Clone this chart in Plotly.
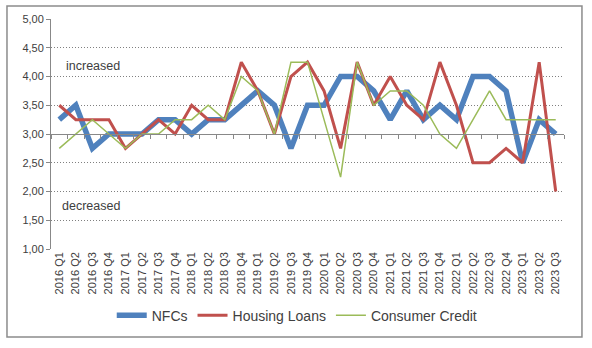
import plotly.graph_objects as go

categories = ["2016 Q1","2016 Q2","2016 Q3","2016 Q4","2017 Q1","2017 Q2","2017 Q3","2017 Q4",
              "2018 Q1","2018 Q2","2018 Q3","2018 Q4","2019 Q1","2019 Q2","2019 Q3","2019 Q4",
              "2020 Q1","2020 Q2","2020 Q3","2020 Q4","2021 Q1","2021 Q2","2021 Q3","2021 Q4",
              "2022 Q1","2022 Q2","2022 Q3","2022 Q4","2023 Q1","2023 Q2","2023 Q3"]

nfcs = [3.25,3.50,2.75,3.00,3.00,3.00,3.25,3.25,3.00,3.25,3.25,3.50,3.75,3.50,2.75,3.50,
        3.50,4.00,4.00,3.75,3.25,3.75,3.25,3.50,3.25,4.00,4.00,3.75,2.50,3.25,3.00]
housing = [3.50,3.25,3.25,3.25,2.75,3.00,3.25,3.00,3.50,3.25,3.25,4.25,3.75,3.00,4.00,4.25,
           3.75,2.75,4.25,3.50,4.00,3.50,3.25,4.25,3.50,2.50,2.50,2.75,2.50,4.25,2.00]
consumer = [2.75,3.00,3.25,3.00,2.75,3.00,3.00,3.25,3.25,3.50,3.25,4.00,3.75,3.00,4.25,4.25,
            3.25,2.25,4.25,3.50,3.75,3.75,3.50,3.00,2.75,3.25,3.75,3.25,3.25,3.25,3.25]
y_ticks = [1.0,1.5,2.0,2.5,3.0,3.5,4.0,4.5,5.0]

idx = list(range(len(categories)))
font = "Liberation Sans"
txt = "#404040"

fig = go.Figure()
fig.add_trace(go.Scatter(x=idx, y=nfcs, mode="lines", name="NFCs",
                         line=dict(color="#4F81BD", width=5.5)))
fig.add_trace(go.Scatter(x=idx, y=housing, mode="lines", name="Housing Loans",
                         line=dict(color="#C0504D", width=3)))
fig.add_trace(go.Scatter(x=idx, y=consumer, mode="lines", name="Consumer Credit",
                         line=dict(color="#9BBB59", width=1.5)))

fig.update_layout(
    width=592, height=348,
    margin=dict(l=51, r=28, t=19, b=99),
    paper_bgcolor="white", plot_bgcolor="white",
    font=dict(family=font, size=11, color=txt),
    separators=",.",
    showlegend=True,
    legend=dict(orientation="h", x=0.48, xanchor="center", y=-0.22, yanchor="top",
                font=dict(size=14, color=txt), itemwidth=30, tracegroupgap=0,
                bgcolor="rgba(0,0,0,0)"),
    xaxis=dict(range=[-0.5, len(categories)-0.5], tickmode="array", tickvals=idx,
               ticktext=categories, tickangle=-90, showgrid=False, zeroline=False,
               showline=False, ticks="", tickfont=dict(size=11, color=txt)),
    xaxis2=dict(range=[-0.5, len(categories)-0.5], overlaying="x", anchor="free",
                position=0.5, side="bottom", showline=True, linecolor="#888888",
                linewidth=1, ticks="outside", ticklen=4, tickcolor="#888888",
                tickmode="array", tickvals=[i-0.5 for i in range(len(categories)+1)],
                showticklabels=False, showgrid=False, zeroline=False),
    yaxis=dict(range=[1, 5], tickmode="array", tickvals=y_ticks, tickformat=".2f",
               showgrid=True, gridcolor="#808080", griddash="1px,2px", gridwidth=1,
               showline=True, linecolor="#888888", linewidth=1, ticks="outside",
               ticklen=4, tickcolor="#888888", zeroline=False,
               tickfont=dict(size=11, color=txt)),
)

# dummy trace so xaxis2 is drawn
fig.add_trace(go.Scatter(x=[idx[0]], y=[y_ticks[0]], xaxis="x2", mode="markers",
                         marker=dict(opacity=0), showlegend=False, hoverinfo="skip"))

fig.add_annotation(text="increased", xref="paper", yref="y", x=0.025, y=4.19,
                   xanchor="left", yanchor="middle", showarrow=False,
                   font=dict(size=12.5, color=txt))
fig.add_annotation(text="decreased", xref="paper", yref="y", x=0.017, y=1.75,
                   xanchor="left", yanchor="middle", showarrow=False,
                   font=dict(size=12.5, color=txt))

fig.add_shape(type="rect", xref="paper", yref="paper",
              x0=-0.0858, x1=1.035, y0=-0.3826, y1=1.0565,
              line=dict(color="#8c8c8c", width=1.5), layer="below")

fig.write_html("out.html")
